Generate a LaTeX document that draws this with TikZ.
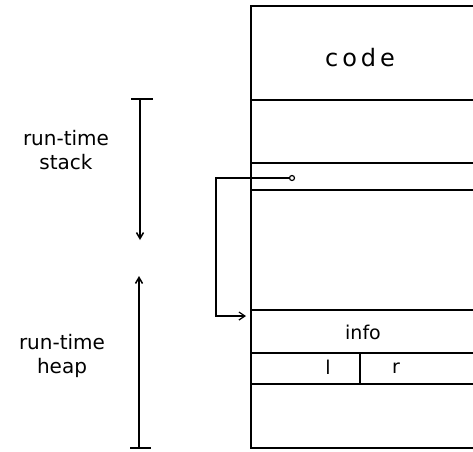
\documentclass[tikz,border=0pt]{standalone}
\usepackage{fontspec}
\setmainfont{DejaVu Sans}
\usetikzlibrary{arrows.meta}
\begin{document}
\begin{tikzpicture}[x=1pt,y=-1pt,
  wall/.style={line width=1.7pt},
  rule/.style={line width=1.5pt},
  lbl/.style={inner sep=0pt, font=\fontsize{20}{22}\selectfont, align=center},
  cell/.style={inner sep=0pt, font=\fontsize{19}{22}\selectfont},
  big/.style={inner sep=0pt, font=\fontsize{24}{28}\selectfont},
  growth/.style={line width=1.5pt, -{Straight Barb[length=6pt,width=7pt]}},
  ptr/.style={line width=1.2pt, -{Straight Barb[length=6pt,width=8pt]}}]
\useasboundingbox (0,0) rectangle (473,451);
% memory column
\coordinate (tl) at (251,6);
\coordinate (bl) at (251,448);
\draw[wall] (473,6) -- (tl) -- (bl) -- (473,448);
\foreach \yy/\nm in {100/a,163/b,190/c,310/d,353/e,384/f}{
  \draw[rule] (251,\yy) coordinate (\nm L) -- (473,\yy) coordinate (\nm R);
}
\draw[line width=1.2pt] (360,353) coordinate (dt) -- (360,384) coordinate (db);
\node[big] (code) at (360,58) {c\,o\,d\,e};
\node[cell] (info) at (363,332) {info};
\node[cell] (l) at (328,367) {l};
\node[cell] (r) at (396,368) {r};
% pointer
\node[circle, draw, line width=1.2pt, fill=white, inner sep=0pt, minimum size=5pt] (dot) at (292,178) {};
\coordinate (pc1) at (216,178);
\coordinate (pc2) at (216,316);
\coordinate (pt) at (246,316);
\draw[ptr] (dot.west) -- (pc1) -- (pc2) -- (pt);
% stack growth
\coordinate (st) at (140,99);
\coordinate (se) at (140,240);
\draw[line width=1.5pt] (131,99) -- (153,99);
\draw[growth] (st) -- (se);
\node[lbl] (stack) at (66,150) {run-time\\[2pt]stack};
% heap growth
\coordinate (ht) at (139,448);
\coordinate (he) at (139,276);
\draw[line width=1.5pt] (130,448) -- (151,448);
\draw[growth] (ht) -- (he);
\node[lbl] (heap) at (62,356) {run-time\\[2pt]heap};
\end{tikzpicture}
\end{document}
